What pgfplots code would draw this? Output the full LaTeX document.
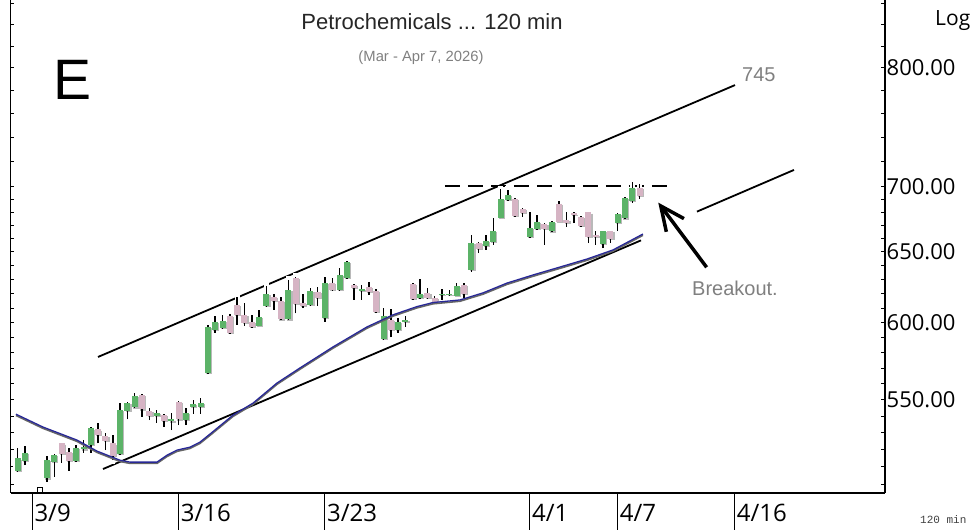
\documentclass[border=0pt]{standalone}
\usepackage{fontspec}
\setmainfont{Liberation Sans}
\newfontfamily\segoe{Open Sans}
\newfontfamily\mono{Liberation Mono}
\usepackage{pgfplots}
\usepackage{pgfplotstable}
\pgfplotsset{compat=1.18}
\usetikzlibrary{arrows.meta}

\definecolor{upc}{RGB}{92,179,104}
\definecolor{dnc}{RGB}{214,180,196}
\definecolor{mablue}{RGB}{40,40,150}
\definecolor{notegray}{RGB}{128,128,128}

% 120 min bars: j = bar number, O H L C
\pgfplotstableread{
j O H L C
-4 507.7 520.7 507.2 514.8
-3 513.4 522.0 511.0 518.1
0 503.4 516.1 501.4 513.8
1 512.8 517.3 504.3 516.7
2 523.6 523.8 512.2 517.3
3 518.7 520.9 507.7 513.2
4 513.2 522.6 512.7 521.0
5 520.1 525.6 518.1 521.6
6 522.6 533.6 518.1 532.6
7 532.0 535.6 523.6 528.6
8 528.0 529.6 519.7 525.2
9 523.6 528.6 513.8 516.1
10 517.3 547.9 516.7 543.7
11 543.3 548.7 538.0 547.9
12 545.4 554.5 544.9 552.4
13 553.0 553.7 539.6 544.1
14 543.1 544.7 537.6 540.0
15 540.0 543.7 536.0 542.0
16 540.6 541.2 533.6 537.2
17 536.8 542.0 531.6 538.0
18 548.9 549.3 534.6 538.0
19 537.6 544.9 534.6 542.0
20 545.7 549.9 541.6 547.4
21 545.7 550.9 541.6 547.9
22 566.8 598.6 566.3 597.5
23 595.2 604.9 593.4 600.8
24 596.4 605.4 595.9 601.5
25 604.7 605.9 592.5 593.0
26 612.2 618.0 598.6 605.4
27 605.4 613.8 597.9 599.7
28 600.8 605.4 596.8 597.5
29 597.9 608.8 597.6 604.2
30 611.8 625.5 611.1 619.7
31 618.0 619.9 608.8 615.0
32 615.2 617.6 602.0 602.4
33 602.4 629.7 602.0 622.7
34 631.4 631.9 606.5 612.7
35 613.4 619.7 610.0 611.8
36 612.2 623.9 611.5 622.0
37 621.5 625.0 611.8 616.9
38 603.1 632.1 600.8 627.4
39 627.8 631.4 622.0 622.7
40 622.7 638.1 622.0 633.3
41 631.0 643.4 630.5 642.9
42 626.2 626.9 615.7 623.9
43 622.0 626.2 615.7 623.2
44 625.0 628.5 619.2 621.1
45 622.0 623.4 606.8 607.2
46 589.0 610.0 588.5 604.7
47 602.0 609.3 590.3 595.2
48 595.2 603.1 593.4 600.8
49 600.6 604.7 597.5 602.0
50 626.7 627.6 615.7 616.2
51 616.9 630.2 616.4 619.9
52 620.4 623.9 616.4 616.9
53 617.3 618.5 612.9 613.4
54 619.0 623.2 615.7 619.9
55 619.0 622.7 618.5 619.9
56 618.7 627.8 618.5 625.7
57 626.2 627.4 616.9 619.9
58 636.9 662.6 635.7 656.4
59 656.6 657.3 649.0 652.4
60 654.6 662.6 651.4 658.1
61 657.6 675.2 655.1 665.6
62 675.6 697.5 675.0 689.9
63 689.3 697.1 688.5 693.2
64 689.9 690.8 676.5 677.1
65 682.5 683.1 676.2 679.2
66 661.3 680.0 660.3 668.0
67 666.9 677.7 666.3 672.4
68 670.6 671.6 655.1 666.9
69 665.2 673.1 664.8 672.6
70 686.5 688.5 672.4 672.6
71 673.9 680.2 668.6 671.4
72 678.8 680.2 671.4 677.8
73 676.4 676.9 668.6 669.1
74 679.7 680.0 656.4 661.3
75 662.6 665.5 655.1 660.8
76 656.1 665.6 652.7 665.4
77 665.4 665.6 656.6 659.6
78 671.4 679.2 665.5 678.6
79 675.0 691.8 674.6 690.6
80 688.6 703.0 686.9 698.9
81 698.9 701.6 690.0 692.2
}\ohlc

% moving average
\pgfplotstableread{
j ma
-4.23 541.2
-0.54 533.4
4.11 525.6
6.84 519.1
8.62 516.1
9.99 513.8
11.35 512.7
15.04 512.7
16.41 516.7
17.78 519.7
19.55 521.4
20.92 524.4
22.29 529.2
25.43 540.6
28.17 548.0
31.45 560.6
34.59 570.2
39.10 583.9
43.74 597.2
47.30 605.4
50.58 611.1
52.77 613.9
56.45 615.7
59.60 620.6
62.87 627.5
66.43 633.3
70.12 639.0
73.81 644.8
77.36 651.4
81.46 663.3
}\matab

\newcommand\pathplot[2]{\edef\temp{\noexpand\addplot[#1] coordinates {#2};}\temp}

\begin{document}
\begin{tikzpicture}

% collect wicks and bodies of the candles
\pgfplotstablegetrowsof{\ohlc}
\pgfmathtruncatemacro\lastrow{\pgfplotsretval-1}
\gdef\wicks{}\gdef\halos{}\gdef\ups{}\gdef\dns{}
\foreach \i in {0,...,\lastrow}{%
  \pgfplotstablegetelem{\i}{j}\of\ohlc \let\cJ\pgfplotsretval
  \pgfplotstablegetelem{\i}{O}\of\ohlc \let\cO\pgfplotsretval
  \pgfplotstablegetelem{\i}{H}\of\ohlc \let\cH\pgfplotsretval
  \pgfplotstablegetelem{\i}{L}\of\ohlc \let\cL\pgfplotsretval
  \pgfplotstablegetelem{\i}{C}\of\ohlc \let\cC\pgfplotsretval
  \pgfmathsetmacro\hH{\cH*1.004}\pgfmathsetmacro\hL{\cL/1.004}
  \xdef\wicks{\wicks (\cJ,\cL) (\cJ,\cH) (\cJ,nan)}
  \xdef\halos{\halos (\cJ,\hL) (\cJ,\hH) (\cJ,nan)}
  \pgfmathtruncatemacro\up{\cC>\cO ? 1 : 0}
  \ifnum\up=1 \xdef\ups{\ups (\cJ,\cO) (\cJ,\cC) (\cJ,nan)}%
  \else \xdef\dns{\dns (\cJ,\cO) (\cJ,\cC) (\cJ,nan)}\fi
}

\begin{axis}[
    at={(10.5bp,37bp)}, anchor=south west,
    scale only axis, width=874.5bp, height=493bp,
    xmin=-4.98, xmax=114.54,
    ymode=log, ymin=495.17, ymax=863.8,
    axis x line*=bottom, axis y line*=box,
    axis line style={line width=1.2bp, black},
    xtick={-2,18,38,66,78,94},
    xticklabels={3/9,3/16,3/23,4/1,4/7,4/16},
    ytick={550,600,650,700,800},
    yticklabels={550.00,600.00,650.00,700.00,800.00},
    minor ytick={500,510,520,530,540,550,560,570,580,590,600,610,620,630,640,650,660,670,680,690,700,720,740,760,780,800,820,840,860},
    ytick pos=both, yticklabel pos=right,
    tick align=inside,
    major tick length=37bp, minor tick length=4bp,
    major x tick style={yshift=-37bp, line width=1bp, black},
    major y tick style={draw=none},
    minor y tick style={line width=0.9bp, black},
    xticklabel style={font=\segoe\fontsize{24bp}{28bp}\selectfont, anchor=base west, inner sep=0pt, xshift=2bp, yshift=-29bp},
    yticklabel style={font=\segoe\fontsize{22bp}{26bp}\selectfont, anchor=west, inner sep=0pt, xshift=1.5bp},
    unbounded coords=jump,
]

% channel lines and the 700 resistance
\addplot[black, line width=1.8bp, forget plot] coordinates {(6.98,577.3) (94.04,784.8)};
\addplot[black, line width=1.8bp, forget plot] coordinates {(7.66,508.7) (81.19,658.5)};
\addplot[black, line width=1.8bp, forget plot] coordinates {(88.84,680.2) (102.1,713.0)};
\addplot[black, line width=1.8bp, dash pattern=on 15bp off 8bp, forget plot] coordinates {(54.4,700) (84.9,700)};

% candles
\pathplot{white, line width=5bp, forget plot}{\halos}
\pathplot{white, line width=10bp, forget plot}{\ups\dns}
\pathplot{gray!55, line width=6bp, xshift=1.2bp, yshift=-1.2bp, forget plot}{\ups\dns}
\pathplot{black, line width=1.5bp, forget plot}{\wicks}
\pathplot{upc, line width=6bp, forget plot}{\ups}
\pathplot{dnc, line width=6bp, forget plot}{\dns}

% moving average
\addplot[gray!80!black, line width=1.6bp, yshift=-1.3bp, forget plot] table[x=j, y=ma] {\matab};
\addplot[mablue, line width=1.3bp, forget plot] table[x=j, y=ma] {\matab};

% small event marker
\addplot[black, mark=square, mark size=2.5bp, mark options={line width=0.7bp, fill=white}, only marks, forget plot] coordinates {(-1,497.0)};

% breakout arrow
\addplot[black, line width=3.5bp, -{Straight Barb[length=24bp, width=22bp, line width=3.5bp]}, forget plot] coordinates {(90.16,638.8) (83.55,687.2)};
\end{axis}

\node[anchor=base, font=\fontsize{22bp}{26bp}\selectfont, text=black!85] at (432bp,500bp) {Petrochemicals ... 120 min};
\node[anchor=base, font=\fontsize{14.8bp}{18bp}\selectfont, text=notegray] at (421bp,468bp) {(Mar - Apr 7, 2026)};
\node[anchor=base west, inner sep=0pt, font=\fontsize{57bp}{60bp}\selectfont] at (53bp,430bp) {E};
\node[anchor=base west, inner sep=0pt, font=\fontsize{20bp}{24bp}\selectfont, text=notegray] at (742bp,448bp) {745};
\node[anchor=base west, inner sep=0pt, font=\fontsize{20bp}{24bp}\selectfont, text=notegray] at (692bp,234bp) {Breakout.};
\node[anchor=base west, inner sep=0pt, font=\segoe\fontsize{21bp}{25bp}\selectfont] at (935bp,504bp) {Log};
\node[anchor=base west, inner sep=0pt, font=\mono\fontsize{11bp}{13bp}\selectfont, text=black!75] at (920bp,7bp) {120 min};

\pgfresetboundingbox
\path (0,0) rectangle (972bp,530bp);
\end{tikzpicture}
\end{document}
